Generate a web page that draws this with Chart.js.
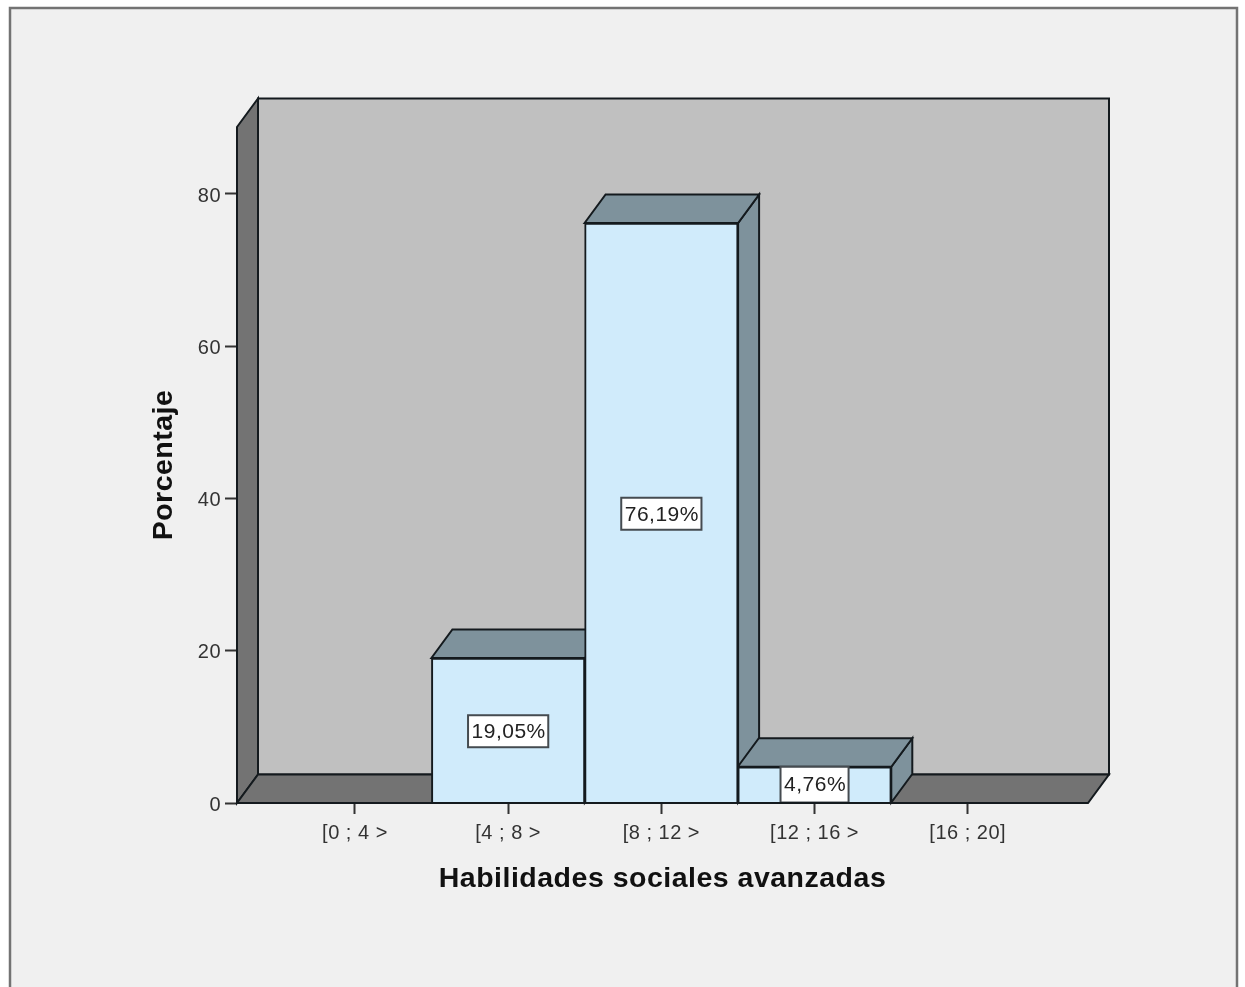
<!DOCTYPE html>
<html>
<head>
<meta charset="utf-8">
<title>Habilidades sociales avanzadas</title>
<script src="https://cdn.jsdelivr.net/npm/chart.js@4"></script>
<style>
  html, body { margin: 0; padding: 0; background: #fff; overflow: hidden; }
  canvas { display: block; }
</style>
</head>
<body>
<canvas id="myChart" width="1245" height="987"></canvas>
<script>
var categories = ['[0 ; 4 >', '[4 ; 8 >', '[8 ; 12 >', '[12 ; 16 >', '[16 ; 20]'];
var positions = [0, 1, 2, 3, 4];
var percentages = [0, 19.05, 76.19, 4.76, 0];
var yTicks = [0, 20, 40, 60, 80];

var DX = 21, DY = 28.5;
var LINE = '#141a1e';

function poly(ctx, pts, fill) {
  ctx.beginPath();
  ctx.moveTo(pts[0][0], pts[0][1]);
  for (var i = 1; i < pts.length; i++) ctx.lineTo(pts[i][0], pts[i][1]);
  ctx.closePath();
  ctx.fillStyle = fill;
  ctx.fill();
  ctx.lineWidth = 2;
  ctx.strokeStyle = LINE;
  ctx.lineJoin = 'miter';
  ctx.stroke();
}

// fondo y marco exterior
var frame = {
  id: 'frame',
  beforeDraw: function(chart) {
    var ctx = chart.ctx;
    ctx.letterSpacing = '0.5px';
    ctx.save();
    ctx.fillStyle = '#f0f0f0';
    ctx.fillRect(10, 8, 1227, 990);
    ctx.strokeStyle = '#737373';
    ctx.lineWidth = 2.5;
    ctx.strokeRect(10, 8, 1227, 990);
    ctx.restore();
  }
};

// paredes y caras 3D de las barras
var box3d = {
  id: 'box3d',
  beforeDatasetsDraw: function(chart) {
    var ctx = chart.ctx, a = chart.chartArea;
    ctx.save();
    poly(ctx, [[a.left + DX, a.top - DY], [a.right + DX, a.top - DY], [a.right + DX, a.bottom - DY], [a.left + DX, a.bottom - DY]], '#c0c0c0');
    poly(ctx, [[a.left, a.top], [a.left + DX, a.top - DY], [a.left + DX, a.bottom - DY], [a.left, a.bottom]], '#737373');
    poly(ctx, [[a.left, a.bottom], [a.left + DX, a.bottom - DY], [a.right + DX, a.bottom - DY], [a.right, a.bottom]], '#737373');

    chart.getDatasetMeta(0).data.forEach(function(bar, i) {
      if (!percentages[i]) return;
      var l = bar.x - bar.width / 2, r = bar.x + bar.width / 2, t = bar.y, b = bar.base;
      poly(ctx, [[r, t], [r + DX, t - DY], [r + DX, b - DY], [r, b]], '#7e929c');
      poly(ctx, [[l, t], [l + DX, t - DY], [r + DX, t - DY], [r, t]], '#7e929c');
    });
    ctx.restore();
  },
  afterDatasetsDraw: function(chart) {
    var ctx = chart.ctx;
    ctx.save();
    ctx.font = '21px "Liberation Sans", Arial, sans-serif';
    ctx.textAlign = 'center';
    ctx.textBaseline = 'middle';
    chart.getDatasetMeta(0).data.forEach(function(bar, i) {
      if (!percentages[i]) return;
      var txt = percentages[i].toFixed(2).replace('.', ',') + '%';
      var w = ctx.measureText(txt).width + 6, h = 32;
      var top = (bar.y + bar.base) / 2 - h / 2 + 1;
      // la etiqueta llena la barra cuando esta es baja
      if (bar.base - bar.y < h + 6) {
        top = bar.y;
        h = bar.base - bar.y;
      }
      ctx.fillStyle = '#fff';
      ctx.fillRect(bar.x - w / 2, top, w, h);
      ctx.strokeStyle = '#454b50';
      ctx.lineWidth = 2;
      ctx.strokeRect(bar.x - w / 2, top, w, h);
      ctx.fillStyle = '#222';
      ctx.fillText(txt, bar.x + 0.5, top + h / 2 + 1);
    });
    // linea base
    var a = chart.chartArea;
    ctx.strokeStyle = LINE;
    ctx.lineWidth = 2;
    ctx.beginPath();
    ctx.moveTo(a.left, a.bottom);
    ctx.lineTo(a.right, a.bottom);
    ctx.stroke();
    ctx.restore();
  }
};

var tickFont = { family: '"Liberation Sans", Arial, sans-serif', size: 20 };
var titleFont = { family: '"Liberation Sans", Arial, sans-serif', size: 28.5, weight: 'bold' };

var chart = new Chart(document.getElementById('myChart'), {
  type: 'bar',
  data: {
    datasets: [{
      label: 'Porcentaje',
      data: positions.map(function(p, i) { return { x: p, y: percentages[i] }; }),
      backgroundColor: '#d0ebfb',
      borderColor: LINE,
      borderWidth: 2,
      barThickness: 153.5
    }]
  },
  options: {
    responsive: false,
    animation: false,
    layout: { padding: { left: 147, right: 157, top: 127, bottom: 91 } },
    plugins: { legend: { display: false }, tooltip: { enabled: false } },
    scales: {
      x: {
        type: 'linear',
        offset: false,
        min: -0.77,
        max: 4.785,
        afterBuildTicks: function(scale) {
          scale.ticks = positions.map(function(p) { return { value: p }; });
        },
        afterFit: function(scale) { scale.height = 93; },
        ticks: {
          autoSkip: false,
          maxRotation: 0,
          padding: 7,
          color: '#333',
          font: tickFont,
          callback: function(value) { return categories[value]; }
        },
        grid: { display: true, offset: false, drawOnChartArea: false, tickLength: 11, tickColor: '#333', tickWidth: 2 },
        border: { display: false },
        title: { display: true, text: 'Habilidades sociales avanzadas', color: '#111', font: titleFont, padding: 0 }
      },
      y: {
        min: 0,
        max: 88.8,
        afterBuildTicks: function(scale) {
          scale.ticks = yTicks.map(function(v) { return { value: v }; });
        },
        afterFit: function(scale) { scale.width = 90; },
        ticks: { padding: 4, labelOffset: 2, color: '#333', font: tickFont },
        grid: { display: true, drawOnChartArea: false, tickLength: 12, tickColor: '#333', tickWidth: 2 },
        border: { display: false },
        title: { display: true, text: 'Porcentaje', color: '#111', font: titleFont, padding: 0 }
      }
    }
  },
  plugins: [frame, box3d]
});
</script>
</body>
</html>
